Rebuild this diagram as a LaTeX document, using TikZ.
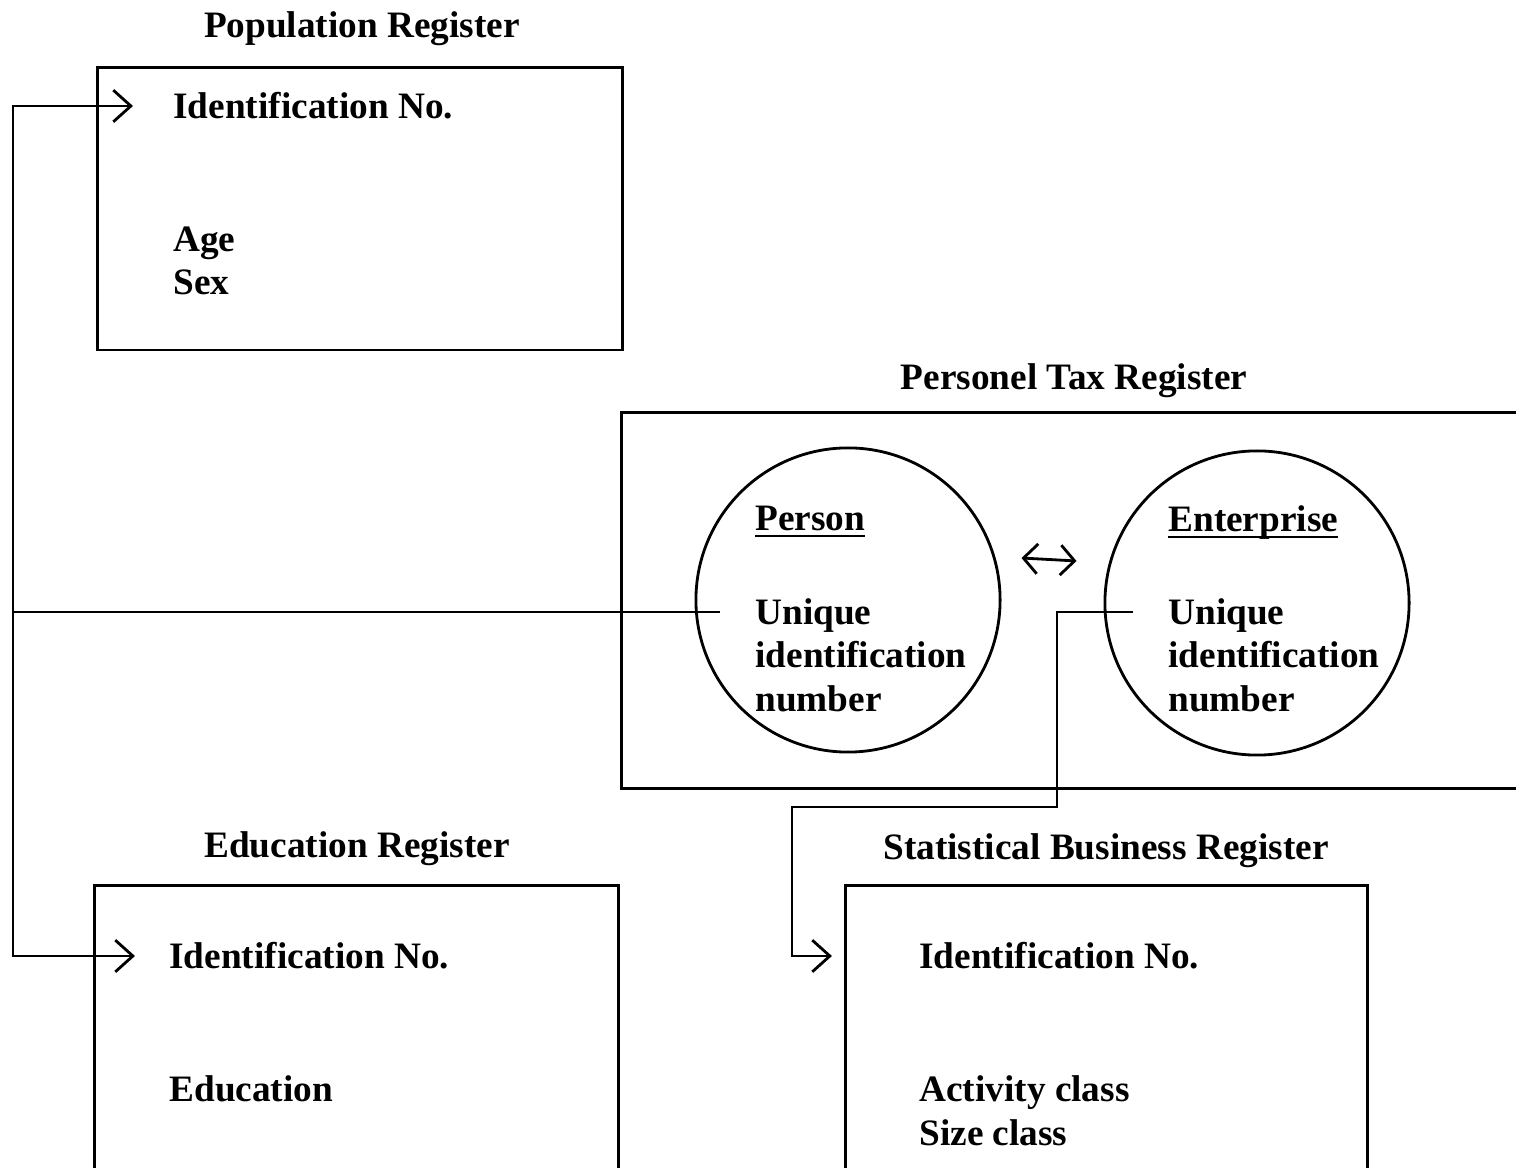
\documentclass[tikz,border=0pt]{standalone}
\usepackage{fontspec}
\setmainfont{Liberation Serif}
\usetikzlibrary{arrows.meta,positioning}

\begin{document}
\begin{tikzpicture}[x=0.01cm, y=-0.01cm, line width=0.8pt,
  >={Straight Barb[length=5pt,width=9pt]},
  every node/.style={font=\fontsize{10.6}{12.4}\selectfont\bfseries, inner sep=0pt},
  regbox/.style={draw, line width=0.8pt},
  entry/.style={anchor=west, align=left},
  unitname/.style={anchor=base west},
  unit/.style={draw, circle, minimum size=3.04cm}]
\useasboundingbox (0,0) rectangle (1516,1168);
\begin{scope}
\clip (0,0) rectangle (1516,1168);
% registers
\node[regbox, minimum width=5.24cm, minimum height=2.82cm] (popreg) at (360,209) {};
\node[regbox, minimum width=9.38cm, minimum height=3.75cm] (taxreg) at (1091,600.5) {};
\node[regbox, minimum width=5.23cm, minimum height=3.44cm] (edureg) at (356.5,1058) {};
\node[regbox, minimum width=5.21cm, minimum height=3.44cm] (sbrreg) at (1106.5,1058) {};
\node (poptitle) at (362,29) {Population Register};
\node (taxtitle) at (1074,381) {Personel Tax Register};
\node (edutitle) at (357,849) {Education Register};
\node (sbrtitle) at (1106,851) {Statistical Business Register};
% variables
\node[entry] (popid) at (172,106) {Identification No.};
\node[entry] (popvars) at (172,261) {Age\\Sex};
\node[entry] (eduid) at (168,956) {Identification No.};
\node[entry] (eduvars) at (168,1089) {Education};
\node[entry] (sbrid) at (918,956) {Identification No.};
\node[entry] (sbrvars) at (918,1111) {Activity class\\Size class};
% units in the tax register
\node[unit] (person) at (848,600) {};
\node[unit] (enterprise) at (1257,603) {};
\node[unitname] (personname) at (754,531) {\underline{\smash{Person}}};
\node[entry] (personkeytext) at (754,655) {Unique\\identification\\number};
\node[unitname] (entname) at (1167,532) {\underline{\smash{Enterprise}}};
\node[entry] (entkeytext) at (1167,655) {Unique\\identification\\number};
\draw[{Straight Barb[length=4pt,width=8.5pt]}-{Straight Barb[length=4pt,width=8.5pt]}]
  ([shift={(20,-42)}]person.east) -- ([shift={(-27,-42)}]enterprise.west);
% links
\coordinate (personkey) at (720,612);
\coordinate (entkey) at (1133,612);
\coordinate (spine) at (13,612);
\draw (personkey) -- (spine);
\draw[->] (spine) |- ([xshift=-0.39cm]popid.west);
\draw[->] (spine) |- ([xshift=-0.33cm]eduid.west);
\draw[->] (entkey) -- ++(-76,0) -- ++(0,195) -- ++(-265,0) |- ([xshift=-0.86cm]sbrid.west);
\end{scope}
\end{tikzpicture}
\end{document}
